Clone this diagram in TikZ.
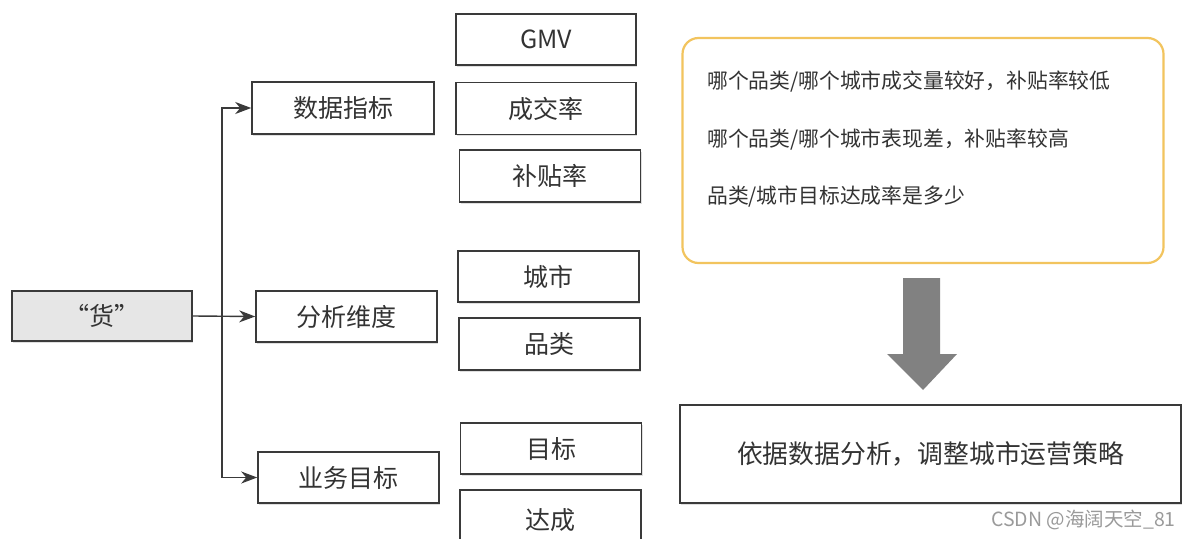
\documentclass[tikz,border=0pt]{standalone}
\usepackage{fontspec}
\setmainfont{Noto Sans CJK SC}
\usetikzlibrary{arrows.meta,shadows}
\definecolor{boxline}{HTML}{3A3A3A}
\definecolor{huofill}{HTML}{E6E6E6}
\definecolor{orangeline}{HTML}{F2C45E}
\definecolor{bigarrow}{HTML}{818181}
\definecolor{txt}{HTML}{333333}
\definecolor{wm}{HTML}{9A9A9A}
\tikzset{
  bx/.style={draw=boxline, line width=1.6pt, fill=white, inner sep=0pt,
    text=txt, font=\fontsize{25pt}{28pt}\selectfont,
    drop shadow={shadow xshift=1.2pt, shadow yshift=-1.5pt, opacity=0.25}},
  conn/.style={draw=boxline, line width=1.4pt, -{Stealth[length=16pt,width=12pt,inset=5pt]}},
  qtxt/.style={anchor=west, inner sep=0pt, text=txt, font=\fontsize{20.8pt}{24pt}\selectfont}
}
\begin{document}
\begin{tikzpicture}[x=1pt,y=1pt]
\useasboundingbox (0,0) rectangle (1191,-538);
\fill[white] (0,0) rectangle (1191,-538);
% left box
\node[bx, fill=huofill, minimum width=180pt, minimum height=50pt] (huo) at (102,-316) {“货”};
% second column
\node[bx, minimum width=182pt, minimum height=52pt] (zhibiao) at (343,-108) {数据指标};
\node[bx, minimum width=181pt, minimum height=51pt] (weidu) at (346.5,-316.5) {分析维度};
\node[bx, minimum width=181pt, minimum height=51pt] (mubiao) at (348.5,-477.5) {业务目标};
% third column
\node[bx, minimum width=180pt, minimum height=51pt] (gmv) at (546,-39.5) {GMV};
\node[bx, minimum width=180pt, minimum height=52pt] (cjl) at (546,-108.5) {成交率};
\node[bx, minimum width=181pt, minimum height=52pt] (btl) at (550,-176) {补贴率};
\node[bx, minimum width=181pt, minimum height=51pt] (cs) at (548.5,-276.5) {城市};
\node[bx, minimum width=181pt, minimum height=52pt] (pl) at (549.5,-344) {品类};
\node[bx, minimum width=181pt, minimum height=51pt] (mb) at (551,-448.5) {目标};
\node[bx, minimum width=181pt, minimum height=60pt] (dc) at (550.5,-520) {达成};
% connectors
\coordinate (jx) at (222,-316);
\draw[conn] (huo.east) -- (weidu.west);
\draw[conn] (jx) |- (zhibiao.west);
\draw[conn] (jx) |- (mubiao.west);
% orange box
\node[draw=orangeline, line width=2.2pt, rounded corners=16pt, minimum width=481pt, minimum height=225pt, inner sep=0pt] (qbox) at (923,-150.5) {};
\node[qtxt] (q1) at (707,-82) {哪个品类/哪个城市成交量较好，补贴率较低};
\node[qtxt] (q2) at (707,-140) {哪个品类/哪个城市表现差，补贴率较高};
\node[qtxt] (q3) at (707,-197) {品类/城市目标达成率是多少};
% big arrow
\fill[bigarrow] (903,-278) -- (940,-278) -- (940,-354) -- (957,-354) -- (923,-390) -- (887,-354) -- (903,-354) -- cycle;
% bottom box
\node[bx, minimum width=501pt, minimum height=98pt, font=\fontsize{25.8pt}{30pt}\selectfont] (strat) at (930.5,-454) {依据数据分析，调整城市运营策略};
% watermark
\node[anchor=east, inner sep=0pt, text=wm, font=\fontsize{19.5pt}{22pt}\selectfont] (wmark) at (1176,-520) {CSDN @海阔天空\_81};
\end{tikzpicture}
\end{document}
